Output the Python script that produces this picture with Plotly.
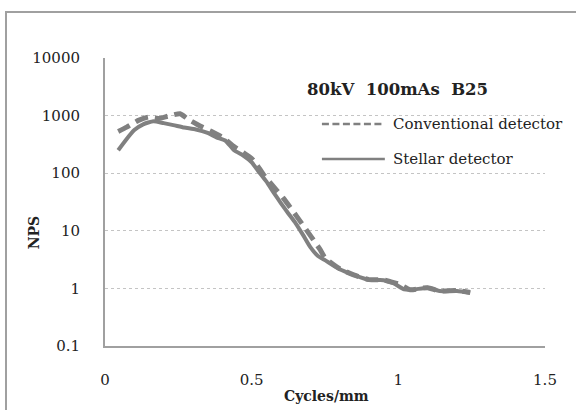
import plotly.graph_objects as go

# Stellar detector (solid)
stellar_x = [0.045, 0.07, 0.1, 0.13, 0.165, 0.2, 0.233, 0.27, 0.31, 0.35, 0.38, 0.41,
             0.44, 0.47, 0.5, 0.525, 0.55, 0.575, 0.6, 0.625, 0.65, 0.675, 0.7,
             0.725, 0.75, 0.8, 0.85, 0.9, 0.95, 0.985, 1.02, 1.05, 1.1, 1.14, 1.2, 1.245]
stellar_y = [250, 370, 560, 705, 800, 740, 684, 620, 575, 500, 420, 370,
             250, 205, 155, 105, 72, 46, 30, 20, 13.5, 8.5, 5.2,
             3.7, 3.1, 2.15, 1.7, 1.4, 1.39, 1.22, 0.96, 0.95, 1.03, 0.9, 0.9, 0.84]

# Conventional detector (dashed)
conv_x = [0.045, 0.074, 0.114, 0.148, 0.182, 0.216, 0.256, 0.284, 0.324, 0.36, 0.403,
          0.4375, 0.472, 0.5, 0.517, 0.54, 0.568, 0.608, 0.653, 0.693, 0.733, 0.75,
          0.8, 0.85, 0.9, 0.95, 0.975, 1.0, 1.04, 1.1, 1.14, 1.2, 1.245]
conv_y = [530, 630, 826, 942, 890, 980, 1075, 860, 660, 540, 413,
          296, 227, 180, 142, 95, 64, 37, 18, 9.3, 4.75, 3.4,
          2.2, 1.7, 1.42, 1.4, 1.3, 1.2, 0.95, 1.03, 0.9, 0.92, 0.85]

x_ticks = [0, 0.5, 1, 1.5]
x_tick_text = ["0", "0.5", "1", "1.5"]
y_ticks = [0.1, 1, 10, 100, 1000, 10000]
y_tick_text = ["0.1", "1", "10", "100", "1000", "10000"]

title_text = "80kV  100mAs  B25"
series_names = ["Conventional detector", "Stellar detector"]

LINE = "#808080"
FONT = "DejaVu Serif, serif"
TXT = "#222222"

fig = go.Figure()
fig.add_trace(go.Scatter(x=conv_x, y=conv_y, mode="lines", name=series_names[0],
                         line=dict(color=LINE, width=5, dash="13px,7px", shape="spline",
                                   smoothing=0.5),
                         showlegend=False))
fig.add_trace(go.Scatter(x=stellar_x, y=stellar_y, mode="lines", name=series_names[1],
                         line=dict(color=LINE, width=4, shape="spline", smoothing=0.5),
                         showlegend=False))

fig.update_layout(
    width=576, height=410,
    margin=dict(l=105, r=31, t=58, b=64, autoexpand=False),
    paper_bgcolor="white", plot_bgcolor="white",
    font=dict(family=FONT, size=15, color=TXT),
    showlegend=False,
)
fig.update_xaxes(range=[0, 1.5], tickvals=x_ticks, ticktext=x_tick_text, automargin=False,
                 showgrid=False, zeroline=False, showline=True, linecolor="#a0a0a0",
                 linewidth=2, ticks="outside", ticklen=19, tickcolor="rgba(0,0,0,0)")
fig.update_yaxes(type="log", range=[-1, 4], tickvals=y_ticks, ticktext=y_tick_text,
                 automargin=False,
                 showgrid=True, gridcolor="#c4c4c4", griddash="dot", gridwidth=1,
                 zeroline=False, showline=True, linecolor="#a0a0a0", linewidth=2,
                 ticks="outside", ticklen=20, tickcolor="rgba(0,0,0,0)")

# outer frame
fig.add_shape(type="rect", xref="paper", yref="paper", x0=-0.225, x1=1.1,
              y0=-0.25, y1=1.16, line=dict(color="#a0a0a0", width=2), layer="below")

# legend drawn manually
fig.add_shape(type="line", xref="paper", yref="paper", x0=0.493, x1=0.636,
              y0=0.771, y1=0.771, line=dict(color=LINE, width=2.5, dash="7px,3.5px"))
fig.add_shape(type="line", xref="paper", yref="paper", x0=0.493, x1=0.636,
              y0=0.649, y1=0.649, line=dict(color=LINE, width=2.5))
fig.add_annotation(xref="paper", yref="paper", x=0.65, y=0.771, text=series_names[0],
                   showarrow=False, xanchor="left", yanchor="middle",
                   font=dict(family=FONT, size=15, color=TXT))
fig.add_annotation(xref="paper", yref="paper", x=0.65, y=0.649, text=series_names[1],
                   showarrow=False, xanchor="left", yanchor="middle",
                   font=dict(family=FONT, size=15, color=TXT))
fig.add_annotation(xref="paper", yref="paper", x=0.664, y=0.892, text="<b>" + title_text + "</b>",
                   showarrow=False, xanchor="center", yanchor="middle",
                   font=dict(family=FONT, size=16.5, color=TXT))
fig.add_annotation(xref="paper", yref="paper", x=-0.161, y=0.392, text="<b>NPS</b>",
                   showarrow=False, textangle=-90, xanchor="center", yanchor="middle",
                   font=dict(family=FONT, size=14, color=TXT))
fig.add_annotation(xref="paper", yref="paper", x=0.504, y=-0.174, text="<b>Cycles/mm</b>",
                   showarrow=False, xanchor="center", yanchor="middle",
                   font=dict(family=FONT, size=14, color=TXT))

fig.write_html("out.html", config={"displayModeBar": False},
               post_script="document.body.style.margin='0';document.body.style.padding='0';")
